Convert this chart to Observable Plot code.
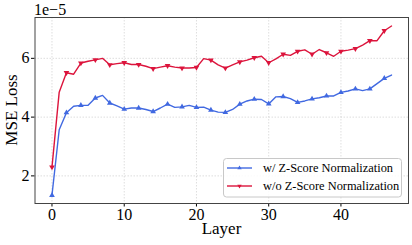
<!DOCTYPE html>
<html>
<head>
<meta charset="utf-8">
<script src="https://cdn.jsdelivr.net/npm/d3@7"></script>
<script src="https://cdn.jsdelivr.net/npm/@observablehq/plot@0.6"></script>
<style>
  html, body { margin: 0; padding: 0; background: #fff; }
  #chart { width: 412px; height: 245px; }
</style>
</head>
<body>
<div id="chart"></div>
<script>
const layers = d3.range(48);
const seriesNames = ["w/ Z-Score Normalization", "w/o Z-Score Normalization"];
// values in units of 1e-5
const withZ = [1.34, 3.57, 4.15, 4.37, 4.40, 4.40, 4.65, 4.74, 4.48, 4.38,
  4.27, 4.31, 4.31, 4.26, 4.19, 4.31, 4.44, 4.33, 4.35, 4.40,
  4.33, 4.34, 4.24, 4.17, 4.16, 4.26, 4.44, 4.55, 4.61, 4.60,
  4.45, 4.69, 4.70, 4.63, 4.50, 4.55, 4.62, 4.66, 4.72, 4.72,
  4.84, 4.89, 4.96, 4.90, 4.96, 5.14, 5.32, 5.43];
const withoutZ = [2.30, 4.85, 5.51, 5.46, 5.84, 5.90, 5.95, 6.00, 5.78, 5.82,
  5.85, 5.79, 5.79, 5.73, 5.65, 5.70, 5.75, 5.70, 5.67, 5.67,
  5.69, 5.99, 5.94, 5.78, 5.67, 5.78, 5.88, 5.94, 6.02, 6.07,
  5.85, 5.98, 6.14, 6.10, 6.24, 6.29, 6.14, 6.30, 6.19, 6.07,
  6.24, 6.28, 6.33, 6.45, 6.60, 6.60, 6.94, 7.10];
const xTicks = [0, 10, 20, 30, 40];
const yTicks = [2, 4, 6];
const colors = ["#4169e1", "#dc143c"];

const blue = layers.map((l, i) => ({layer: l, v: withZ[i]}));
const red = layers.map((l, i) => ({layer: l, v: withoutZ[i]}));
const even = d => d.layer % 2 === 0;

const font = "'Liberation Serif', 'Times New Roman', serif";
const R = 2.1;

const plot = Plot.plot({
  width: 412,
  height: 245,
  marginLeft: 34.5,
  marginRight: 4,
  marginTop: 17,
  marginBottom: 42,
  style: {fontFamily: font, fontSize: "16px", background: "#fff", color: "#000"},
  x: {domain: [-2.35, 49.35], ticks: xTicks, tickSize: 3.5, tickPadding: 2, label: null, tickFormat: d => String(d)},
  y: {domain: [1.06, 7.39], ticks: yTicks, tickSize: 3.5, tickPadding: 2, label: null, tickFormat: d => String(d)},
  marks: [
    Plot.gridX(xTicks, {stroke: "#b0b0b0", strokeOpacity: 0.6, strokeDasharray: "1.5,1.5", strokeWidth: 0.7}),
    Plot.gridY(yTicks, {stroke: "#b0b0b0", strokeOpacity: 0.6, strokeDasharray: "1.5,1.5", strokeWidth: 0.7}),
    Plot.line(blue, {x: "layer", y: "v", stroke: colors[0], strokeWidth: 1.4}),
    Plot.dot(blue.filter(even), {x: "layer", y: "v", symbol: "triangle", r: R, fill: colors[0], stroke: null}),
    Plot.line(red, {x: "layer", y: "v", stroke: colors[1], strokeWidth: 1.4}),
    Plot.dot(red.filter(even), {x: "layer", y: "v", symbol: "triangle", rotate: 180, r: R, fill: colors[1], stroke: null}),
    Plot.frame({stroke: "#444", strokeWidth: 1})
  ]
});
document.getElementById("chart").appendChild(plot);

const svg = d3.select(plot);
// scale factor label
svg.append("text").attr("x", 34).attr("y", 15).attr("text-anchor", "start")
  .attr("font-family", font).attr("font-size", 16).attr("fill", "#000")
  .text("1e\u22125");
// axis labels
svg.append("text").attr("x", 221.5).attr("y", 234)
  .attr("text-anchor", "middle").attr("font-family", font).attr("font-size", 17).attr("fill", "#000")
  .text("Layer");
svg.append("text").attr("transform", "translate(16.5,110) rotate(-90)")
  .attr("text-anchor", "middle").attr("font-family", font).attr("font-size", 17).attr("fill", "#000")
  .text("MSE Loss");
// legend
const lg = svg.append("g");
lg.append("rect").attr("x", 223.5).attr("y", 158.5).attr("width", 178).attr("height", 38.5)
  .attr("rx", 3).attr("fill", "#fff").attr("fill-opacity", 0.85).attr("stroke", "#c8c8c8").attr("stroke-width", 1);
seriesNames.forEach((name, i) => {
  const y = 168 + i * 18;
  lg.append("line").attr("x1", 227).attr("x2", 252).attr("y1", y).attr("y2", y)
    .attr("stroke", colors[i]).attr("stroke-width", 1.4);
  lg.append("path").attr("d", d3.symbol(d3.symbolTriangle2, R * R * Math.PI)())
    .attr("transform", `translate(239.5,${y}) rotate(${i === 0 ? 0 : 180})`).attr("fill", colors[i]);
  lg.append("text").attr("x", 263).attr("y", y).attr("dy", "0.35em").attr("text-anchor", "start")
    .attr("font-family", font).attr("font-size", 12.4).attr("fill", "#000").text(name);
});
</script>
</body>
</html>
